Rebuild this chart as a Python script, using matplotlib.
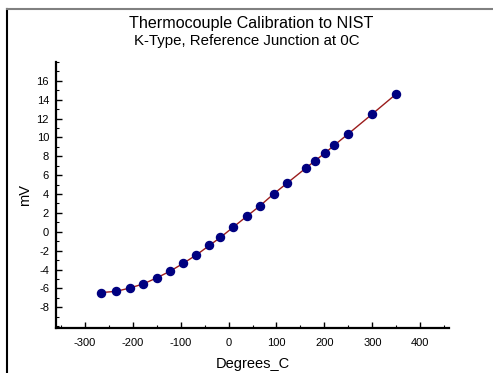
import matplotlib
matplotlib.use("Agg")
import matplotlib.pyplot as plt
from matplotlib.lines import Line2D
from matplotlib.ticker import FixedLocator, MultipleLocator

plt.rcParams['font.family'] = ['Liberation Sans', 'DejaVu Sans']

degrees = [-267, -234, -206, -178, -150, -122, -95, -67, -40, -17, 10, 38, 66, 94,
           122, 161, 181, 201, 221, 250, 300, 350]
millivolts = [-6.45, -6.31, -5.96, -5.53, -4.89, -4.18, -3.36, -2.45, -1.45, -0.60,
              0.50, 1.64, 2.77, 4.01, 5.15, 6.74, 7.55, 8.34, 9.19, 10.39, 12.49, 14.62]
x_ticks = [-300, -200, -100, 0, 100, 200, 300, 400]
y_ticks = [-8, -6, -4, -2, 0, 2, 4, 6, 8, 10, 12, 14, 16]

W, H = 493, 373
fig = plt.figure(figsize=(W / 100, H / 100), dpi=100)
ax = fig.add_axes([56 / W, 1 - 328 / H, (449 - 56) / W, (328 - 62) / H])

ax.plot(degrees, millivolts, color='#9b1c1c', lw=1.0, zorder=2)
ax.plot(degrees, millivolts, ls='none', marker='o', ms=5.8, color='#000080',
        markeredgecolor='#000080', zorder=3)

ax.set_xlim(-360, 460)
ax.set_ylim(-10.2, 18.0)
ax.xaxis.set_major_locator(FixedLocator(x_ticks))
ax.yaxis.set_major_locator(FixedLocator(y_ticks))
ax.xaxis.set_minor_locator(MultipleLocator(50))
ax.yaxis.set_minor_locator(MultipleLocator(1))
ax.set_xticklabels([str(v) for v in x_ticks])
ax.set_yticklabels([str(v) for v in y_ticks])

for s in ['top', 'right']:
    ax.spines[s].set_visible(False)
for s in ['left', 'bottom']:
    ax.spines[s].set_linewidth(1.6)
    ax.spines[s].set_color('black')

ax.tick_params(which='major', direction='in', length=4, width=1.0, labelsize=8, pad=5,
               colors='black')
ax.tick_params(which='minor', direction='in', length=2.5, width=0.8)
ax.tick_params(axis='x', which='major', pad=7)

ax.set_xlabel('Degrees_C', fontsize=10.5, labelpad=7)
ax.set_ylabel('mV', fontsize=10.5, labelpad=3)

fig.text(251 / W, 1 - 23.5 / H, 'Thermocouple Calibration to NIST', ha='center', va='center',
         fontsize=11.6)
fig.text(247 / W, 1 - 41.5 / H, 'K-Type, Reference Junction at 0C', ha='center', va='center',
         fontsize=10.8)

# outer frame
fig.add_artist(Line2D([6.5 / W, 6.5 / W], [0, 1 - 8.7 / H], transform=fig.transFigure,
                      color='black', lw=1.5))
fig.add_artist(Line2D([6.5 / W, 1], [1 - 8.7 / H, 1 - 8.7 / H], transform=fig.transFigure,
                      color='#808080', lw=1.5))

fig.savefig('out.png', dpi=100)
